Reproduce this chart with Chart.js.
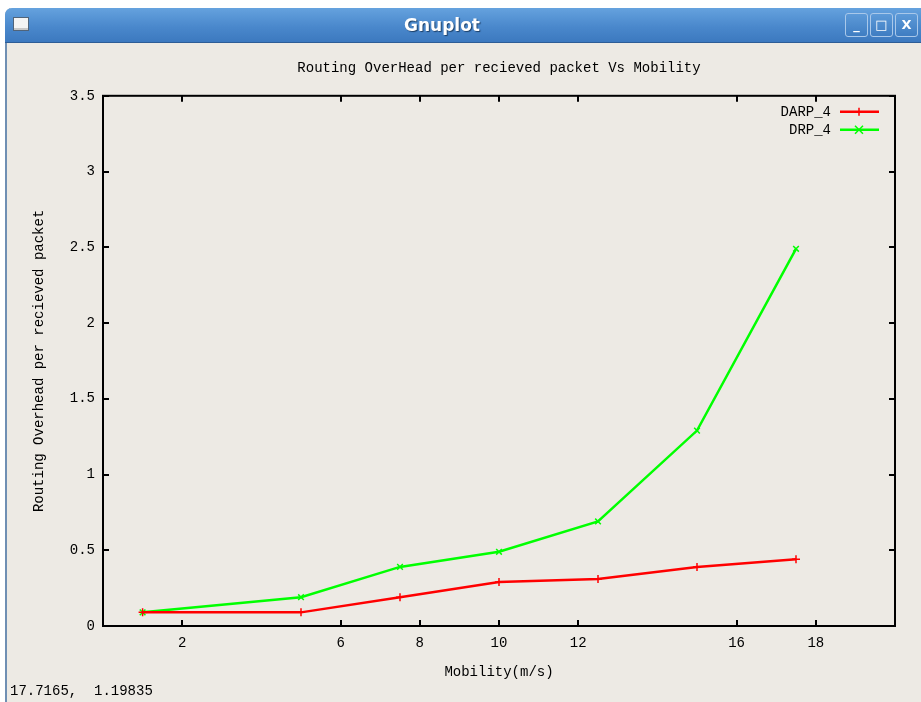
<!DOCTYPE html>
<html><head><meta charset="utf-8">
<script src="https://cdn.jsdelivr.net/npm/chart.js@4/dist/chart.umd.min.js"></script>
<style>
html,body{margin:0;padding:0;background:#ffffff;width:921px;height:702px;overflow:hidden;}
#win{position:absolute;left:5px;top:8px;width:940px;height:720px;background:#edeae4;border-left:2px solid #6f8fb3;border-top-left-radius:7px;z-index:0;}
#cv{position:absolute;left:0;top:0;z-index:1;}
#bar{position:absolute;left:5px;top:8px;width:940px;height:34px;background:linear-gradient(#65a2de,#4a88cc 55%,#3c79bf);border-top-left-radius:7px;border-bottom:1px solid #2d5d96;z-index:2;}
#bar .ttl{position:absolute;left:0;width:874px;top:7px;text-align:center;font:bold 17px "DejaVu Sans",sans-serif;color:#fff;text-shadow:1px 1px 1px #1d3f66;}
#bar .ico{position:absolute;left:8px;top:9px;width:14px;height:12px;background:#f4f4f4;border:1px solid #50647a;box-shadow:inset 0 -2px 0 #c8c8c8;}
.btn{position:absolute;top:5px;width:21px;height:22px;border:1px solid #a9c8ea;border-radius:3px;background:linear-gradient(#5d9ad8,#3f7dc2);color:#fff;font:bold 13px "DejaVu Sans",sans-serif;text-align:center;line-height:22px;}
#status{position:absolute;left:10px;top:683px;font:14px "Liberation Mono","DejaVu Sans Mono",monospace;color:#000;z-index:3;white-space:pre;}
</style>
</head><body>
<div id="win"></div>
<canvas id="cv" width="921" height="702"></canvas>
<div id="bar"><div class="ico"></div><div class="ttl">Gnuplot</div>
<div class="btn" style="left:840px">_</div><div class="btn" style="left:865px">&#9633;</div><div class="btn" style="left:890px">X</div></div>
<div id="status">17.7165,  1.19835</div>
<script>
// ---- data ----
const categories = [1, 5, 7.5, 10, 12.5, 15, 17.5];          // Mobility (m/s)
const darp4 = [0.09, 0.09, 0.19, 0.29, 0.31, 0.39, 0.44];
const drp4  = [0.09, 0.19, 0.39, 0.49, 0.69, 1.29, 2.49];
const seriesNames = ['DARP_4', 'DRP_4'];
const xTickValues = [2, 6, 8, 10, 12, 16, 18];
const yTickValues = [0, 0.5, 1, 1.5, 2, 2.5, 3, 3.5];
const chartTitle = 'Routing OverHead per recieved packet Vs Mobility';
const xTitle = 'Mobility(m/s)';
const yTitle = 'Routing Overhead per recieved packet';

const MONO = '"Liberation Mono","DejaVu Sans Mono",monospace';
Chart.defaults.font.family = MONO;
Chart.defaults.font.size = 14;
Chart.defaults.color = '#000';

function pts(ys){ return categories.map((x,i)=>({x:x, y:ys[i]})); }

function drawMarker(ctx, style, x, y, r){
  ctx.beginPath();
  if(style==='cross'){ ctx.moveTo(x-r,y); ctx.lineTo(x+r,y); ctx.moveTo(x,y-r); ctx.lineTo(x,y+r); }
  else { ctx.moveTo(x-r,y-r); ctx.lineTo(x+r,y+r); ctx.moveTo(x-r,y+r); ctx.lineTo(x+r,y-r); }
  ctx.stroke();
}

const framePlugin = {
  id:'frame',
  beforeDatasetsDraw(chart){
    const {ctx, chartArea:{left,right,top,bottom}, scales:{x,y}} = chart;
    ctx.save();
    ctx.strokeStyle='#000'; ctx.lineWidth=2;
    ctx.strokeRect(left,top,right-left,bottom-top);
    const L=6;
    ctx.beginPath();
    x.ticks.forEach(t=>{const p=Math.round(x.getPixelForValue(t.value)); ctx.moveTo(p,bottom); ctx.lineTo(p,bottom-L); ctx.moveTo(p,top); ctx.lineTo(p,top+L);});
    y.ticks.forEach(t=>{const p=Math.round(y.getPixelForValue(t.value)); ctx.moveTo(left,p); ctx.lineTo(left+L,p); ctx.moveTo(right,p); ctx.lineTo(right-L,p);});
    ctx.stroke();
    ctx.restore();
  },
  afterDraw(chart){
    const {ctx, chartArea:{right,top}} = chart;
    ctx.save();
    ctx.font = '14px '+MONO; ctx.textAlign='right'; ctx.textBaseline='middle'; ctx.fillStyle='#000';
    chart.data.datasets.forEach((ds,i)=>{
      const yy = top+16+i*18;
      ctx.fillText(ds.label, right-64, yy);
      ctx.strokeStyle = ds.borderColor; ctx.lineWidth = ds.borderWidth;
      ctx.beginPath(); ctx.moveTo(right-55,yy); ctx.lineTo(right-16,yy); ctx.stroke();
      ctx.lineWidth = 1.5;
      drawMarker(ctx, ds.pointStyle, right-36, yy, 4);
    });
    ctx.restore();
  }
};

new Chart(document.getElementById('cv'), {
  type:'line',
  data:{ datasets:[
    {label:seriesNames[0], data:pts(darp4), borderColor:'#ff0000', backgroundColor:'#ff0000', borderWidth:2.5,
     pointStyle:'cross', pointRadius:4, pointBorderWidth:1.5, pointBorderColor:'#ff0000', tension:0, clip:false},
    {label:seriesNames[1], data:pts(drp4), borderColor:'#00ff00', backgroundColor:'#00ff00', borderWidth:2.5,
     pointStyle:'crossRot', pointRadius:4, pointBorderWidth:1.5, pointBorderColor:'#00ff00', tension:0, clip:false}
  ]},
  options:{
    responsive:false, animation:false, devicePixelRatio:1,
    layout:{padding:{left:0,right:26,top:0,bottom:0}},
    plugins:{
      legend:{display:false}, tooltip:{enabled:false},
      title:{display:true, text:chartTitle, fullSize:false, color:'#000',
             font:{size:14, weight:'normal', family:MONO}, padding:{top:60, bottom:19}}
    },
    scales:{
      x:{type:'linear', min:0, max:20,
         afterBuildTicks(s){ s.ticks = xTickValues.map(v=>({value:v})); },
         afterFit(s){ s.height = 76; },
         ticks:{padding:9, maxRotation:0, autoSkip:false, callback:v=>String(v)},
         grid:{display:false, drawTicks:false}, border:{display:false},
         title:{display:true, text:xTitle, font:{size:14, family:MONO}, padding:{top:0,bottom:21}}},
      y:{type:'linear', min:0, max:3.5,
         afterBuildTicks(s){ s.ticks = yTickValues.map(v=>({value:v})); },
         afterFit(s){ s.width = 103; },
         ticks:{padding:8, callback:v=>String(v)},
         grid:{display:false, drawTicks:false}, border:{display:false},
         title:{display:true, text:yTitle, font:{size:14, family:MONO}, padding:{top:31,bottom:0}}}
    }
  },
  plugins:[framePlugin]
});
</script>
</body></html>
